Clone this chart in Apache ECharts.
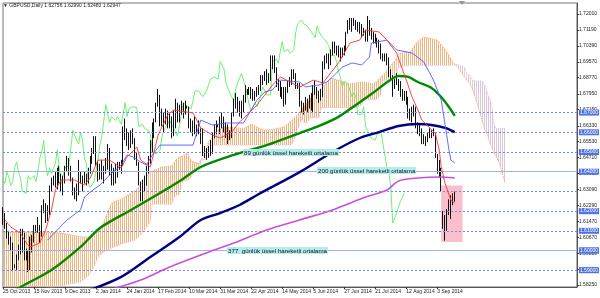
<!DOCTYPE html>
<html><head><meta charset="utf-8">
<script src="https://cdn.jsdelivr.net/npm/echarts@6/dist/echarts.min.js"></script>
<style>html,body{margin:0;padding:0;background:#fff}#c{width:600px;height:298px}</style>
</head><body><div id="c"></div><script>
// ---------- data ----------
const xLabels = ['25 Oct 2013','15 Nov 2013','9 Dec 2013','2 Jan 2014','24 Jan 2014','17 Feb 2014','10 Mar 2014','31 Mar 2014','22 Apr 2014','14 May 2014','5 Jun 2014','27 Jun 2014','21 Jul 2014','12 Aug 2014','3 Sep 2014'];
const yTicks = [1.72010,1.71190,1.70390,1.69570,1.68770,1.67950,1.67150,1.66330,1.65530,1.64710,1.63910,1.63090,1.62290,1.61470,1.60670,1.59850,1.59050,1.58250];
const barCount = 297;
// daily bars: open, high, low, close
const ohlc = [
[1.6190,1.6220,1.6130,1.6180],[1.6180,1.6190,1.6110,1.6130],[1.6130,1.6140,1.6060,1.6080],[1.6080,1.6100,1.6030,1.6050],[1.6050,1.6070,1.6000,1.6030],
[1.6030,1.6040,1.5900,1.5920],[1.5920,1.5930,1.5910,1.5920],[1.5920,1.5980,1.5900,1.5960],[1.5960,1.6030,1.5950,1.5990],[1.5990,1.6110,1.5980,1.6090],
[1.6090,1.6110,1.5990,1.6080],[1.6080,1.6090,1.5950,1.5960],[1.5960,1.6010,1.5950,1.5990],[1.5990,1.6000,1.5890,1.5910],[1.5910,1.6070,1.5900,1.6050],
[1.6050,1.6080,1.5990,1.6060],[1.6060,1.6130,1.6040,1.6110],[1.6110,1.6130,1.6090,1.6110],[1.6110,1.6170,1.6090,1.6110],[1.6110,1.6130,1.6040,1.6080],
[1.6080,1.6230,1.6070,1.6210],[1.6210,1.6260,1.6190,1.6230],[1.6230,1.6240,1.6140,1.6170],[1.6170,1.6230,1.6150,1.6200],[1.6200,1.6330,1.6180,1.6310],
[1.6310,1.6370,1.6300,1.6350],[1.6350,1.6380,1.6330,1.6360],[1.6360,1.6400,1.6320,1.6340],[1.6340,1.6420,1.6310,1.6400],[1.6400,1.6430,1.6340,1.6370],
[1.6370,1.6390,1.6300,1.6330],[1.6330,1.6380,1.6280,1.6350],[1.6350,1.6430,1.6340,1.6420],[1.6420,1.6480,1.6400,1.6450],[1.6450,1.6470,1.6380,1.6400],
[1.6400,1.6430,1.6350,1.6370],[1.6370,1.6370,1.6280,1.6300],[1.6300,1.6320,1.6260,1.6290],[1.6290,1.6340,1.6250,1.6290],[1.6290,1.6460,1.6280,1.6380],
[1.6380,1.6400,1.6340,1.6360],[1.6360,1.6380,1.6300,1.6350],[1.6350,1.6400,1.6340,1.6380],[1.6380,1.6390,1.6330,1.6350],[1.6350,1.6420,1.6340,1.6400],
[1.6400,1.6480,1.6390,1.6470],[1.6470,1.6520,1.6440,1.6500],[1.6500,1.6580,1.6490,1.6560],[1.6560,1.6580,1.6430,1.6440],[1.6440,1.6450,1.6350,1.6380],
[1.6380,1.6440,1.6360,1.6420],[1.6420,1.6460,1.6360,1.6390],[1.6390,1.6430,1.6340,1.6420],[1.6420,1.6470,1.6390,1.6440],[1.6440,1.6540,1.6410,1.6510],
[1.6510,1.6520,1.6380,1.6420],[1.6420,1.6440,1.6330,1.6340],[1.6340,1.6420,1.6330,1.6350],[1.6350,1.6440,1.6340,1.6420],[1.6420,1.6450,1.6370,1.6420],
[1.6420,1.6450,1.6410,1.6430],[1.6430,1.6460,1.6390,1.6440],[1.6440,1.6630,1.6430,1.6610],[1.6610,1.6670,1.6560,1.6600],[1.6600,1.6620,1.6530,1.6560],
[1.6560,1.6600,1.6510,1.6540],[1.6540,1.6610,1.6520,1.6600],[1.6600,1.6620,1.6540,1.6560],[1.6560,1.6570,1.6460,1.6470],[1.6470,1.6500,1.6430,1.6440],
[1.6440,1.6450,1.6330,1.6340],[1.6340,1.6350,1.6250,1.6320],[1.6320,1.6360,1.6250,1.6320],[1.6320,1.6380,1.6300,1.6350],[1.6350,1.6430,1.6330,1.6410],
[1.6410,1.6480,1.6390,1.6460],[1.6460,1.6560,1.6440,1.6540],[1.6540,1.6650,1.6500,1.6580],[1.6580,1.6670,1.6570,1.6660],[1.6660,1.6750,1.6650,1.6740],
[1.6740,1.6820,1.6730,1.6750],[1.6750,1.6790,1.6630,1.6650],[1.6650,1.6720,1.6630,1.6680],[1.6680,1.6700,1.6600,1.6680],[1.6680,1.6720,1.6640,1.6660],
[1.6660,1.6710,1.6620,1.6680],[1.6680,1.6700,1.6620,1.6660],[1.6660,1.6680,1.6570,1.6640],[1.6640,1.6710,1.6580,1.6640],[1.6640,1.6770,1.6620,1.6750],
[1.6750,1.6750,1.6650,1.6680],[1.6680,1.6740,1.6650,1.6720],[1.6720,1.6760,1.6690,1.6710],[1.6710,1.6750,1.6670,1.6730],[1.6730,1.6760,1.6690,1.6730],
[1.6730,1.6735,1.6720,1.6725],[1.6725,1.6730,1.6620,1.6630],[1.6630,1.6670,1.6600,1.6630],[1.6630,1.6660,1.6580,1.6640],[1.6640,1.6680,1.6590,1.6620],
[1.6620,1.6640,1.6580,1.6620],[1.6620,1.6660,1.6590,1.6610],[1.6610,1.6620,1.6540,1.6590],[1.6590,1.6620,1.6480,1.6500],[1.6500,1.6530,1.6470,1.6490],
[1.6490,1.6520,1.6460,1.6490],[1.6490,1.6530,1.6470,1.6500],[1.6500,1.6560,1.6480,1.6510],[1.6510,1.6600,1.6490,1.6580],[1.6580,1.6640,1.6570,1.6610],
[1.6610,1.6660,1.6590,1.6630],[1.6630,1.6640,1.6625,1.6635],[1.6635,1.6680,1.6590,1.6660],[1.6660,1.6700,1.6620,1.6660],[1.6660,1.6680,1.6600,1.6620],
[1.6620,1.6650,1.6570,1.6610],[1.6610,1.6640,1.6540,1.6580],[1.6580,1.6610,1.6560,1.6590],[1.6590,1.6700,1.6570,1.6690],[1.6690,1.6770,1.6680,1.6750],
[1.6750,1.6800,1.6720,1.6760],[1.6760,1.6780,1.6700,1.6730],[1.6730,1.6760,1.6680,1.6740],[1.6740,1.6760,1.6670,1.6720],[1.6720,1.6790,1.6700,1.6760],
[1.6760,1.6840,1.6750,1.6810],[1.6810,1.6820,1.6790,1.6800],[1.6800,1.6830,1.6790,1.6810],[1.6810,1.6830,1.6770,1.6800],[1.6800,1.6820,1.6760,1.6780],
[1.6780,1.6810,1.6760,1.6780],[1.6780,1.6830,1.6780,1.6810],[1.6810,1.6840,1.6790,1.6820],[1.6820,1.6890,1.6810,1.6870],[1.6870,1.6890,1.6840,1.6880],
[1.6880,1.6910,1.6860,1.6880],[1.6880,1.6920,1.6840,1.6870],[1.6870,1.6900,1.6850,1.6870],[1.6870,1.6990,1.6860,1.6960],[1.6960,1.6990,1.6920,1.6960],
[1.6960,1.6990,1.6900,1.6920],[1.6920,1.6930,1.6830,1.6850],[1.6850,1.6870,1.6810,1.6840],[1.6840,1.6860,1.6780,1.6800],[1.6800,1.6830,1.6770,1.6800],
[1.6800,1.6830,1.6730,1.6760],[1.6760,1.6830,1.6740,1.6820],[1.6820,1.6860,1.6800,1.6850],[1.6850,1.6880,1.6830,1.6860],[1.6860,1.6920,1.6840,1.6900],
[1.6900,1.6920,1.6870,1.6890],[1.6890,1.6900,1.6820,1.6830],[1.6830,1.6850,1.6820,1.6840],[1.6840,1.6850,1.6730,1.6740],[1.6740,1.6760,1.6700,1.6710],
[1.6710,1.6750,1.6690,1.6720],[1.6720,1.6780,1.6710,1.6750],[1.6750,1.6770,1.6700,1.6730],[1.6730,1.6790,1.6720,1.6730],[1.6730,1.6800,1.6710,1.6790],
[1.6790,1.6840,1.6700,1.6830],[1.6830,1.6860,1.6790,1.6810],[1.6810,1.6830,1.6770,1.6790],[1.6790,1.6810,1.6750,1.6780],[1.6780,1.6820,1.6760,1.6790],
[1.6790,1.6960,1.6780,1.6960],[1.6960,1.6990,1.6920,1.6970],[1.6970,1.7000,1.6950,1.6970],[1.6970,1.7000,1.6920,1.6950],[1.6950,1.7020,1.6940,1.7010],
[1.7010,1.7060,1.6990,1.7060],[1.7060,1.7060,1.7000,1.7010],[1.7010,1.7040,1.6990,1.7000],[1.7000,1.7040,1.6980,1.7020],[1.7020,1.7030,1.6960,1.7000],
[1.7000,1.7030,1.6980,1.7010],[1.7010,1.7040,1.6990,1.7020],[1.7020,1.7110,1.7010,1.7110],[1.7110,1.7170,1.7100,1.7150],[1.7150,1.7180,1.7120,1.7160],
[1.7160,1.7180,1.7110,1.7170],[1.7170,1.7180,1.7140,1.7150],[1.7150,1.7170,1.7120,1.7150],[1.7150,1.7160,1.7110,1.7140],[1.7140,1.7160,1.7100,1.7140],
[1.7140,1.7150,1.7080,1.7110],[1.7110,1.7130,1.7090,1.7100],[1.7100,1.7120,1.7060,1.7080],[1.7080,1.7190,1.7060,1.7140],[1.7140,1.7170,1.7090,1.7110],
[1.7110,1.7130,1.7070,1.7090],[1.7090,1.7110,1.7050,1.7090],[1.7090,1.7100,1.7050,1.7070],[1.7070,1.7080,1.7030,1.7060],[1.7060,1.7070,1.7000,1.7040],
[1.7040,1.7050,1.6970,1.6990],[1.6990,1.7000,1.6960,1.6980],[1.6980,1.7000,1.6960,1.6990],[1.6990,1.7000,1.6940,1.6960],[1.6960,1.6980,1.6880,1.6910],
[1.6910,1.6920,1.6860,1.6880],[1.6880,1.6890,1.6780,1.6830],[1.6830,1.6870,1.6820,1.6860],[1.6860,1.6900,1.6840,1.6860],[1.6860,1.6870,1.6810,1.6840],
[1.6840,1.6860,1.6780,1.6810],[1.6810,1.6820,1.6760,1.6780],[1.6780,1.6810,1.6760,1.6800],[1.6800,1.6810,1.6740,1.6780],[1.6780,1.6780,1.6670,1.6690],
[1.6690,1.6720,1.6660,1.6700],[1.6700,1.6730,1.6650,1.6690],[1.6690,1.6740,1.6680,1.6730],[1.6730,1.6730,1.6620,1.6630],[1.6630,1.6650,1.6590,1.6610],
[1.6610,1.6640,1.6580,1.6600],[1.6600,1.6620,1.6540,1.6570],[1.6570,1.6590,1.6540,1.6560],[1.6560,1.6580,1.6530,1.6560],[1.6560,1.6600,1.6550,1.6590],
[1.6590,1.6620,1.6570,1.6590],[1.6590,1.6610,1.6570,1.6600],[1.6600,1.6620,1.6580,1.6600],[1.6600,1.6600,1.6470,1.6480],[1.6480,1.6490,1.6390,1.6420],
[1.6420,1.6460,1.6370,1.6400],[1.6400,1.6420,1.6300,1.6320],[1.6160,1.6200,1.6110,1.6140],[1.6140,1.6180,1.6050,1.6140],[1.6140,1.6210,1.6100,1.6190],
[1.6190,1.6260,1.6180,1.6220],[1.6220,1.6280,1.6160,1.6250],[1.6250,1.6290,1.6230,1.6270],[1.62756,1.62990,1.62480,1.62947]
];
// moving averages [bar, price]
const ema89 = [[5,1.5789],[9,1.5815],[25,1.5901],[40,1.6018],[50,1.6114],[66,1.6206],[81,1.6292],[92,1.6358],[102,1.6424],[119,1.6485],[136,1.6535],[153,1.6596],[163,1.6632],[173,1.6678],[182,1.6739],[190,1.6794],[199,1.6860],[204,1.6886],[209,1.6881],[214,1.6855],[221,1.6825],[226,1.6779],[230,1.6728],[233,1.6683]];
const ema200 = [[45,1.5800],[61,1.5866],[76,1.5967],[91,1.6069],[102,1.6155],[112,1.6190],[122,1.6231],[132,1.6287],[153,1.6398],[170,1.6500],[184,1.6571],[194,1.6601],[204,1.6632],[214,1.6642],[221,1.6637],[228,1.6622],[233,1.6601]];
const ema377 = [[55,1.5800],[71,1.5850],[86,1.5916],[102,1.5977],[119,1.6038],[136,1.6104],[153,1.6155],[170,1.6206],[187,1.6271],[198,1.6307],[204,1.6353],[214,1.6368],[225,1.6373],[233,1.6368]];
// ichimoku
const tenkan = [[1,1.6155],[4,1.6119],[9,1.6089],[12,1.6038],[14,1.6018],[19,1.6038],[22,1.6104],[25,1.6206],[27,1.6307],[30,1.6358],[37,1.6358],[42,1.6332],[45,1.6368],[49,1.6459],[55,1.6459],[61,1.6419],[64,1.6475],[69,1.6525],[71,1.6459],[76,1.6424],[80,1.6586],[85,1.6688],[88,1.6713],[95,1.6703],[98,1.6698],[102,1.6622],[108,1.6586],[112,1.6571],[118,1.6601],[122,1.6652],[127,1.6698],[131,1.6739],[135,1.6789],[139,1.6840],[143,1.6881],[153,1.6830],[160,1.6865],[165,1.6850],[173,1.6952],[179,1.7053],[184,1.7068],[187,1.7119],[194,1.7109],[198,1.7068],[203,1.7002],[208,1.6865],[211,1.6779],[214,1.6713],[216,1.6662],[223,1.6594],[225,1.6510],[226,1.6424],[228,1.6341],[231,1.6255],[233,1.6241]];
const kijun = [[23,1.6053],[28,1.6104],[33,1.6155],[40,1.6206],[42,1.6271],[45,1.6297],[50,1.6332],[55,1.6383],[61,1.6434],[64,1.6485],[67,1.6475],[71,1.6449],[74,1.6434],[77,1.6485],[81,1.6535],[98,1.6535],[102,1.6662],[108,1.6637],[115,1.6647],[124,1.6647],[131,1.6764],[135,1.6805],[139,1.6815],[143,1.6865],[153,1.6855],[156,1.6830],[163,1.6840],[167,1.6855],[170,1.6881],[175,1.6931],[180,1.6952],[185,1.6942],[189,1.6982],[190,1.7053],[198,1.7068],[203,1.7018],[211,1.7002],[217,1.6957],[222,1.6865],[226,1.6764],[228,1.6639],[230,1.6510],[231,1.6459],[233,1.6444]];
const cloudIdx = [0,20,30,40,44,47,49,52,56,61,68,71,76,77,82,87,88,89,91,92,93,95,97,98,101,102,104,105,106,111,114,121,124,128,134,138,145,148,149,150,151,152,153,154,155,157,159,161,163,164,165,169,174,179,182,185,186,191,193,195,196,200,201,203,204,205,210,213,217,224,229,232,234,238,239,241,242,244,247,249,250,251,252,253,254,256,259];
const spanA = [1.6094,1.6094,1.6089,1.6069,1.6069,1.6084,1.6094,1.6145,1.6241,1.6262,1.6302,1.6333,1.6398,1.6405,1.6424,1.6429,1.6440,1.6460,1.6475,1.6478,1.6480,1.6495,1.6454,1.6450,1.6440,1.6434,1.6490,1.6520,1.6551,1.6612,1.6627,1.6622,1.6617,1.6642,1.6612,1.6612,1.6627,1.6652,1.6660,1.6670,1.6680,1.6690,1.6703,1.6715,1.6730,1.6754,1.6780,1.6799,1.6815,1.6820,1.6830,1.6876,1.6860,1.6845,1.6850,1.6855,1.6855,1.6845,1.6860,1.6880,1.6890,1.6936,1.6950,1.6975,1.6990,1.7002,1.7007,1.7053,1.7084,1.7068,1.7007,1.6955,1.6936,1.6880,1.6870,1.6845,1.6820,1.6764,1.6662,1.6600,1.6580,1.6550,1.6525,1.6500,1.6480,1.6446,1.6340];
const spanB = [1.5780,1.5805,1.5820,1.5840,1.5871,1.5921,1.5967,1.5993,1.6013,1.6033,1.6053,1.6079,1.6145,1.6235,1.6235,1.6235,1.6260,1.6280,1.6285,1.6330,1.6355,1.6355,1.6370,1.6405,1.6425,1.6460,1.6460,1.6500,1.6535,1.6535,1.6535,1.6535,1.6535,1.6535,1.6535,1.6535,1.6535,1.6535,1.6535,1.6560,1.6585,1.6615,1.6640,1.6670,1.6650,1.6650,1.6675,1.6675,1.6675,1.6725,1.6725,1.6725,1.6725,1.6725,1.6725,1.6740,1.6765,1.6765,1.6770,1.6795,1.6865,1.6865,1.6875,1.6900,1.6930,1.6935,1.6940,1.6940,1.6940,1.6940,1.6940,1.6940,1.6945,1.6930,1.6905,1.6885,1.6865,1.6860,1.6860,1.6830,1.6790,1.6780,1.6745,1.6650,1.6620,1.6620,1.6620];
// horizontal price lines
const dotLevels = [1.66725,1.65948,1.65306,1.64593,1.62250,1.61520,1.61030,1.59700,1.59050];
const solidLevels = [1.63695,1.60400,1.58400];
const plainDotLevels = [1.63090];
const lastPrice = 1.62947;
const boxRange = {from: 226, to: 237, top: 1.6330, bottom: 1.6043};

// ---------- chart ----------
const cats = Array.from({length: barCount}, (_, i) => String(i));
const chikou = ohlc.slice(26).map((r, k) => [k, r[3]]);
function hatch(color) {
  const c = document.createElement('canvas'); c.width = 2; c.height = 2;
  const g = c.getContext('2d'); g.fillStyle = color; g.fillRect(0, 0, 1, 2);
  return {image: c, repeat: 'repeat'};
}
const patUp = hatch('#f6b27a'), patDn = hatch('#dcc6dc');
const FONT = 'Liberation Sans';
const showIdx = (i) => i % 16 === 0 && i / 16 < xLabels.length;
const chart = echarts.init(document.getElementById('c'), null, {renderer: 'canvas'});
const lvlLabel = (bg, fg) => ({show: true, position: 'end', distance: 2, formatter: p => p.value.toFixed(5), backgroundColor: bg, color: fg, fontSize: 5, fontFamily: FONT, padding: [1, 1, 0, 1]});
chart.setOption({
  animation: false,
  backgroundColor: '#fff',
  grid: {left: 2, right: 21, top: 3, bottom: 11, show: true, borderColor: '#777', borderWidth: 1},
  xAxis: {type: 'category', data: cats, boundaryGap: false,
    axisLine: {lineStyle: {color: '#555'}},
    axisTick: {interval: (i) => showIdx(i), length: 2, lineStyle: {color: '#333'}},
    axisLabel: {interval: (i) => showIdx(i), formatter: (v, i) => xLabels[i / 16], fontSize: 5, fontFamily: FONT, color: '#222', align: 'left', margin: 2},
    splitLine: {show: false}},
  yAxis: {type: 'value', position: 'right', min: 1.58148, max: 1.72561, z: 0,
    axisLine: {show: true, lineStyle: {color: '#555'}},
    axisTick: {show: true, customValues: yTicks, length: 2, lineStyle: {color: '#333'}},
    axisLabel: {customValues: yTicks, formatter: v => v.toFixed(5), fontSize: 5, fontFamily: FONT, color: '#222', margin: 2},
    splitLine: {show: false}},
  series: [
    {type: 'line', name: 'box', data: [], z: 0, silent: true,
      markArea: {silent: true, itemStyle: {color: '#f9bfcb'}, data: [[{coord: [boxRange.from, boxRange.top]}, {coord: [boxRange.to, boxRange.bottom]}]]}},
    {type: 'custom', name: 'cloud', z: 1, clip: true, silent: true,
      data: cloudIdx.map((i, k) => [i, spanA[k], spanB[k]]), encode: {x: 0, y: [1, 2]},
      renderItem: (params, api) => {
        const k = params.dataIndex;
        if (k >= cloudIdx.length - 1) return null;
        const a1 = api.coord([cloudIdx[k], spanA[k]]), a2 = api.coord([cloudIdx[k + 1], spanA[k + 1]]);
        const b1 = api.coord([cloudIdx[k], spanB[k]]), b2 = api.coord([cloudIdx[k + 1], spanB[k + 1]]);
        const up = spanA[k] + spanA[k + 1] >= spanB[k] + spanB[k + 1];
        return {type: 'polygon', shape: {points: [a1, a2, b2, b1]}, style: {fill: up ? patUp : patDn, stroke: null}};
      }},
    {type: 'line', name: 'spanA', data: cloudIdx.map((i, k) => [i, spanA[k]]), symbol: 'none', z: 2, lineStyle: {color: '#f4a460', width: 1, type: 'dotted'}},
    {type: 'line', name: 'spanB', data: cloudIdx.map((i, k) => [i, spanB[k]]), symbol: 'none', z: 2, lineStyle: {color: '#d8bfd8', width: 1, type: 'dotted'}},
    {type: 'line', name: 'chikou', data: chikou, symbol: 'none', z: 3, lineStyle: {color: '#5cf05c', width: 0.9}},
    {type: 'candlestick', name: 'GBPUSD', z: 4, barWidth: 1.2,
      data: ohlc.map(r => [r[0], r[3], r[2], r[1]]),
      itemStyle: {color: '#ffffff', color0: '#000000', borderColor: '#111', borderColor0: '#111', borderWidth: 1}},
    {type: 'line', name: 'ema377', data: ema377, symbol: 'none', smooth: 0.3, z: 5, lineStyle: {color: '#c94fdc', width: 1.6}},
    {type: 'line', name: 'ema200', data: ema200, symbol: 'none', smooth: 0.3, z: 5, lineStyle: {color: '#000080', width: 2.4}},
    {type: 'line', name: 'ema89', data: ema89, symbol: 'none', smooth: 0.3, z: 5, lineStyle: {color: '#008a00', width: 2.4}},
    {type: 'line', name: 'kijun', data: kijun, symbol: 'none', z: 6, lineStyle: {color: '#4a5cff', width: 0.9}},
    {type: 'line', name: 'tenkan', data: tenkan, symbol: 'none', z: 6, lineStyle: {color: '#ff3030', width: 0.9}},
    {type: 'line', name: 'levels', data: [], z: 7, silent: true,
      markLine: {silent: true, symbol: 'none', animation: false,
        data: [].concat(
          dotLevels.map(v => ({yAxis: v, lineStyle: {color: '#6f8bef', type: [2, 2], width: 1}, label: lvlLabel('#4f73e3', '#fff')})),
          solidLevels.map(v => ({yAxis: v, lineStyle: {color: '#9fb2f0', type: 'solid', width: 1}, label: lvlLabel('#4f73e3', '#fff')})),
          plainDotLevels.map(v => ({yAxis: v, lineStyle: {color: '#6f8bef', type: [2, 2], width: 1}, label: {show: false}})),
          [{yAxis: lastPrice, lineStyle: {opacity: 0}, label: lvlLabel('#000', '#fff')}]
        )}}
  ],
  graphic: [
    {type: 'text', left: 3, top: 3, style: {text: '▼ GBPUSD,Daily 1.62756 1.62990 1.62480 1.62947', fontSize: 5, fontFamily: FONT, fill: '#222'}},
    {type: 'polygon', shape: {points: [[459, 1], [465, 1], [462, 5]]}, style: {fill: '#999'}},
    {type: 'text', left: 243, top: 149, z: 50, style: {text: '89 günlük üssel hareketli ortalama', fontSize: 6.2, fontFamily: FONT, fill: '#111', backgroundColor: '#b3ecec', padding: [1, 1, 0, 1]}},
    {type: 'text', left: 317, top: 167, z: 50, style: {text: '200 günlük üssel hareketli ortalama', fontSize: 6.2, fontFamily: FONT, fill: '#111', backgroundColor: '#b3ecec', padding: [1, 1, 0, 1]}},
    {type: 'text', left: 227, top: 247, z: 50, style: {text: '377  günlük üssel hareketli ortalama', fontSize: 6.2, fontFamily: FONT, fill: '#111', backgroundColor: '#b3ecec', padding: [1, 1, 0, 1]}}
  ]
});
</script></body></html>
